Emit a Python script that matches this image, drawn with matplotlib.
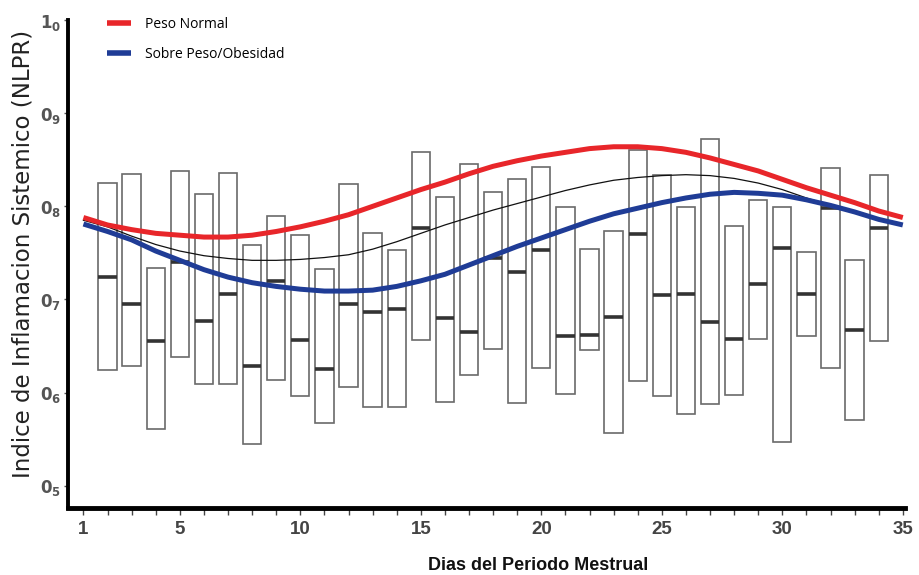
import matplotlib
matplotlib.use("Agg")
import matplotlib.pyplot as plt
import numpy as np

# ---------------- data ----------------
box_days = list(range(2, 35))
box_top = [0.825, 0.835, 0.734, 0.838, 0.813, 0.836, 0.758, 0.790, 0.769, 0.733,
           0.824, 0.771, 0.753, 0.858, 0.810, 0.846, 0.815, 0.829, 0.842, 0.799,
           0.754, 0.774, 0.861, 0.834, 0.799, 0.872, 0.779, 0.807, 0.799, 0.751,
           0.841, 0.742, 0.834]
box_bottom = [0.624, 0.629, 0.561, 0.638, 0.609, 0.609, 0.545, 0.614, 0.596, 0.567,
              0.606, 0.585, 0.584, 0.656, 0.590, 0.619, 0.647, 0.589, 0.626, 0.598,
              0.646, 0.557, 0.612, 0.596, 0.577, 0.588, 0.597, 0.658, 0.547, 0.661,
              0.626, 0.570, 0.655]
box_median = [0.724, 0.695, 0.655, 0.740, 0.677, 0.706, 0.628, 0.720, 0.656, 0.625,
              0.695, 0.686, 0.690, 0.777, 0.680, 0.665, 0.745, 0.730, 0.753, 0.661,
              0.662, 0.681, 0.770, 0.705, 0.706, 0.676, 0.657, 0.717, 0.755, 0.706,
              0.798, 0.667, 0.777]

curve_days = list(range(1, 36))
peso_normal = [0.788, 0.780, 0.775, 0.771, 0.769, 0.767, 0.767, 0.769, 0.773, 0.778,
               0.784, 0.791, 0.800, 0.809, 0.818, 0.826, 0.835, 0.843, 0.849, 0.854,
               0.858, 0.862, 0.864, 0.864, 0.862, 0.858, 0.852, 0.845, 0.838, 0.829,
               0.820, 0.812, 0.804, 0.795, 0.788]
sobre_peso = [0.781, 0.773, 0.764, 0.752, 0.742, 0.732, 0.724, 0.718, 0.714, 0.711,
              0.709, 0.709, 0.710, 0.714, 0.720, 0.727, 0.737, 0.747, 0.757, 0.766,
              0.775, 0.784, 0.792, 0.798, 0.804, 0.809, 0.813, 0.815, 0.814, 0.812,
              0.807, 0.801, 0.794, 0.786, 0.780]
mean_days = list(range(1, 35))
mean_curve = [0.785, 0.778, 0.768, 0.759, 0.752, 0.747, 0.744, 0.742, 0.742, 0.743,
              0.745, 0.748, 0.754, 0.762, 0.771, 0.780, 0.788, 0.796, 0.803, 0.810,
              0.817, 0.823, 0.828, 0.831, 0.833, 0.834, 0.833, 0.830, 0.825, 0.818,
              0.809, 0.801, 0.794, 0.786]

xtick_minor = list(range(1, 36))
xtick_major = [1, 5, 10, 15, 20, 25, 30, 35]
ytick_vals = [0.5, 0.6, 0.7, 0.8, 0.9, 1.0]
ytick_labels = [r"$\mathbf{0}_{\mathbf{5}}$", r"$\mathbf{0}_{\mathbf{6}}$",
                r"$\mathbf{0}_{\mathbf{7}}$", r"$\mathbf{0}_{\mathbf{8}}$",
                r"$\mathbf{0}_{\mathbf{9}}$", r"$\mathbf{1}_{\mathbf{0}}$"]

# ---------------- figure ----------------
fig = plt.figure(figsize=(9.19, 5.75), dpi=100)
ax = fig.add_axes([0.074, 0.1165, 0.911, 0.8485])

bd = np.array(box_days)
bt = np.array(box_top)
bb = np.array(box_bottom)
bw = 0.76
ax.bar(bd, bt - bb, bottom=bb, width=bw, fill=False, edgecolor="#6a6a6a",
       linewidth=1.2, zorder=2)
ax.hlines(box_median, bd - bw / 2, bd + bw / 2, colors="#333333", linewidth=2.6, zorder=3)

ax.plot(mean_days, mean_curve, color="#111111", linewidth=0.9, zorder=4)
ax.plot(curve_days, peso_normal, color="#e8262a", linewidth=3.6, zorder=5,
        label="Peso Normal", solid_capstyle="butt")
ax.plot(curve_days, sobre_peso, color="#1f3c96", linewidth=3.6, zorder=5,
        label="Sobre Peso/Obesidad", solid_capstyle="butt")

ax.set_xlim(0.36, 35.1)
ax.set_ylim(0.476, 1.0)

for s in ["top", "right"]:
    ax.spines[s].set_visible(False)
ax.spines["left"].set_linewidth(2.8)
ax.spines["bottom"].set_linewidth(3.5)

ax.set_xticks(xtick_major)
ax.set_xticks(xtick_minor, minor=True)
ax.set_xticklabels([str(v) for v in xtick_major],
                   fontdict=dict(family=["Liberation Sans Narrow", "Liberation Sans"],
                                 weight="bold", size=13.5, color="#444444"))
ax.tick_params(axis="x", which="both", direction="out", length=5, width=1,
               color="#444444", pad=4)
ax.set_yticks(ytick_vals)
ax.set_yticklabels(ytick_labels, fontsize=12, color="#555555")
ax.tick_params(axis="y", direction="out", length=3, width=1, color="#555555", pad=2)

ax.set_ylabel("Indice de Inflamacion Sistemico (NLPR)", fontsize=16.5,
              family="DejaVu Sans", color="#222222")
ax.yaxis.set_label_coords(-0.04, 0.52)
ax.set_xlabel("Dias del Periodo Mestrual", fontsize=13, weight="bold",
              family=["Liberation Sans Narrow", "Liberation Sans"], color="#111111",
              va="center")
ax.xaxis.set_label_coords(0.5615, -0.117)

leg = ax.legend(loc="upper left", bbox_to_anchor=(0.032, 1.032), frameon=False,
                handlelength=1.7, handletextpad=1.0, labelspacing=1.1,
                prop=dict(family="Open Sans", size=10))
for line in leg.get_lines():
    line.set_linewidth(4)

fig.savefig("out.png", dpi=100)
